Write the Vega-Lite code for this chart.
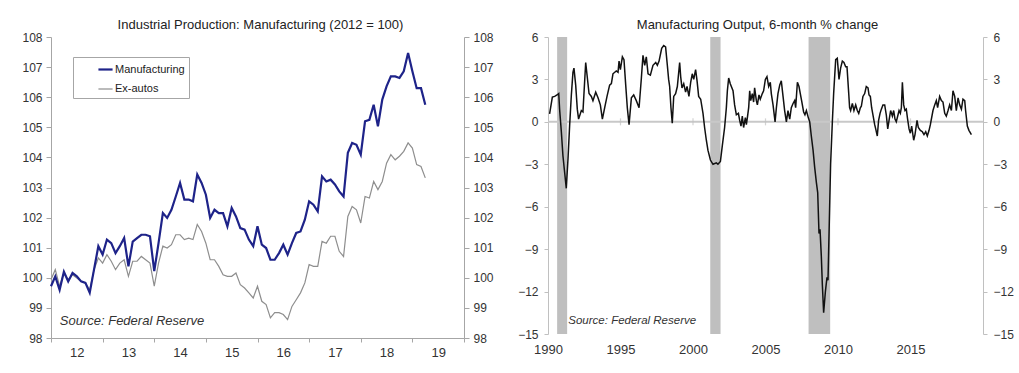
{
  "$schema": "https://vega.github.io/schema/vega-lite/v6.json",
  "background": "white",
  "padding": {"left": 21, "top": 19, "right": 5, "bottom": 5},
  "spacing": 23,
  "config": {
    "font": "Liberation Sans",
    "view": {"stroke": null},
    "axis": {"labelFont": "Liberation Sans", "labelFontSize": 12, "labelColor": "#333333", "domainColor": "#a6a6a6", "tickColor": "#a6a6a6", "grid": false, "tickSize": 5, "labelPadding": 4},
    "title": {"font": "Liberation Sans", "fontSize": 13, "fontWeight": "normal", "color": "#222222", "offset": 5}
  },
  "hconcat": [
    {
      "width": 413,
      "height": 301,
      "title": {"text": "Industrial Production: Manufacturing (2012 = 100)", "dy": 6, "dx": 3},
      "data": {"values": [
        {"t": 2012.0, "Manufacturing": 99.72, "Ex-autos": 99.94},
        {"t": 2012.083, "Manufacturing": 100.05, "Ex-autos": 100.27},
        {"t": 2012.167, "Manufacturing": 99.6, "Ex-autos": 99.72},
        {"t": 2012.25, "Manufacturing": 100.2, "Ex-autos": 100.16},
        {"t": 2012.333, "Manufacturing": 99.88, "Ex-autos": 99.94},
        {"t": 2012.417, "Manufacturing": 100.16, "Ex-autos": 100.1},
        {"t": 2012.5, "Manufacturing": 100.05, "Ex-autos": 99.99},
        {"t": 2012.583, "Manufacturing": 99.88, "Ex-autos": 99.88},
        {"t": 2012.667, "Manufacturing": 99.83, "Ex-autos": 99.83},
        {"t": 2012.75, "Manufacturing": 99.5, "Ex-autos": 99.6},
        {"t": 2012.833, "Manufacturing": 100.27, "Ex-autos": 100.27},
        {"t": 2012.917, "Manufacturing": 101.05, "Ex-autos": 100.66},
        {"t": 2013.0, "Manufacturing": 100.77, "Ex-autos": 100.49},
        {"t": 2013.083, "Manufacturing": 101.27, "Ex-autos": 100.77},
        {"t": 2013.167, "Manufacturing": 101.15, "Ex-autos": 100.55},
        {"t": 2013.25, "Manufacturing": 100.82, "Ex-autos": 100.27},
        {"t": 2013.333, "Manufacturing": 101.05, "Ex-autos": 100.49},
        {"t": 2013.417, "Manufacturing": 101.32, "Ex-autos": 100.6},
        {"t": 2013.5, "Manufacturing": 100.38, "Ex-autos": 100.05},
        {"t": 2013.583, "Manufacturing": 101.2, "Ex-autos": 100.55},
        {"t": 2013.667, "Manufacturing": 101.32, "Ex-autos": 100.55},
        {"t": 2013.75, "Manufacturing": 101.43, "Ex-autos": 100.71},
        {"t": 2013.833, "Manufacturing": 101.43, "Ex-autos": 100.6},
        {"t": 2013.917, "Manufacturing": 101.38, "Ex-autos": 100.49},
        {"t": 2014.0, "Manufacturing": 100.22, "Ex-autos": 99.72},
        {"t": 2014.083, "Manufacturing": 101.15, "Ex-autos": 100.49},
        {"t": 2014.167, "Manufacturing": 102.15, "Ex-autos": 101.05},
        {"t": 2014.25, "Manufacturing": 101.99, "Ex-autos": 100.99},
        {"t": 2014.333, "Manufacturing": 102.26, "Ex-autos": 101.1},
        {"t": 2014.417, "Manufacturing": 102.7, "Ex-autos": 101.43},
        {"t": 2014.5, "Manufacturing": 103.15, "Ex-autos": 101.43},
        {"t": 2014.583, "Manufacturing": 102.6, "Ex-autos": 101.27},
        {"t": 2014.667, "Manufacturing": 102.6, "Ex-autos": 101.32},
        {"t": 2014.75, "Manufacturing": 102.54, "Ex-autos": 101.27},
        {"t": 2014.833, "Manufacturing": 103.43, "Ex-autos": 101.77},
        {"t": 2014.917, "Manufacturing": 103.15, "Ex-autos": 101.54},
        {"t": 2015.0, "Manufacturing": 102.76, "Ex-autos": 101.15},
        {"t": 2015.083, "Manufacturing": 101.99, "Ex-autos": 100.6},
        {"t": 2015.167, "Manufacturing": 102.26, "Ex-autos": 100.6},
        {"t": 2015.25, "Manufacturing": 102.15, "Ex-autos": 100.38},
        {"t": 2015.333, "Manufacturing": 102.15, "Ex-autos": 100.1},
        {"t": 2015.417, "Manufacturing": 101.71, "Ex-autos": 100.05},
        {"t": 2015.5, "Manufacturing": 102.32, "Ex-autos": 100.05},
        {"t": 2015.583, "Manufacturing": 102.04, "Ex-autos": 100.16},
        {"t": 2015.667, "Manufacturing": 101.65, "Ex-autos": 99.77},
        {"t": 2015.75, "Manufacturing": 101.6, "Ex-autos": 99.66},
        {"t": 2015.833, "Manufacturing": 101.27, "Ex-autos": 99.5},
        {"t": 2015.917, "Manufacturing": 101.05, "Ex-autos": 99.33},
        {"t": 2016.0, "Manufacturing": 101.71, "Ex-autos": 99.72},
        {"t": 2016.083, "Manufacturing": 101.1, "Ex-autos": 99.22},
        {"t": 2016.167, "Manufacturing": 100.99, "Ex-autos": 99.11},
        {"t": 2016.25, "Manufacturing": 100.6, "Ex-autos": 98.67},
        {"t": 2016.333, "Manufacturing": 100.6, "Ex-autos": 98.84},
        {"t": 2016.417, "Manufacturing": 100.82, "Ex-autos": 98.84},
        {"t": 2016.5, "Manufacturing": 101.1, "Ex-autos": 98.78},
        {"t": 2016.583, "Manufacturing": 100.77, "Ex-autos": 98.61},
        {"t": 2016.667, "Manufacturing": 101.15, "Ex-autos": 99.05},
        {"t": 2016.75, "Manufacturing": 101.49, "Ex-autos": 99.27},
        {"t": 2016.833, "Manufacturing": 101.54, "Ex-autos": 99.5},
        {"t": 2016.917, "Manufacturing": 101.93, "Ex-autos": 99.83},
        {"t": 2017.0, "Manufacturing": 102.54, "Ex-autos": 100.44},
        {"t": 2017.083, "Manufacturing": 102.43, "Ex-autos": 100.38},
        {"t": 2017.167, "Manufacturing": 102.21, "Ex-autos": 100.38},
        {"t": 2017.25, "Manufacturing": 103.37, "Ex-autos": 101.21},
        {"t": 2017.333, "Manufacturing": 103.2, "Ex-autos": 101.15},
        {"t": 2017.417, "Manufacturing": 103.26, "Ex-autos": 101.38},
        {"t": 2017.5, "Manufacturing": 103.1, "Ex-autos": 101.38},
        {"t": 2017.583, "Manufacturing": 102.87, "Ex-autos": 100.88},
        {"t": 2017.667, "Manufacturing": 102.7, "Ex-autos": 100.71},
        {"t": 2017.75, "Manufacturing": 104.15, "Ex-autos": 102.04},
        {"t": 2017.833, "Manufacturing": 104.48, "Ex-autos": 102.37},
        {"t": 2017.917, "Manufacturing": 104.42, "Ex-autos": 102.26},
        {"t": 2018.0, "Manufacturing": 104.09, "Ex-autos": 101.82},
        {"t": 2018.083, "Manufacturing": 105.2, "Ex-autos": 102.7},
        {"t": 2018.167, "Manufacturing": 105.25, "Ex-autos": 102.65},
        {"t": 2018.25, "Manufacturing": 105.75, "Ex-autos": 103.2},
        {"t": 2018.333, "Manufacturing": 105.03, "Ex-autos": 102.93},
        {"t": 2018.417, "Manufacturing": 105.92, "Ex-autos": 103.2},
        {"t": 2018.5, "Manufacturing": 106.36, "Ex-autos": 103.81},
        {"t": 2018.583, "Manufacturing": 106.69, "Ex-autos": 104.09},
        {"t": 2018.667, "Manufacturing": 106.69, "Ex-autos": 103.92},
        {"t": 2018.75, "Manufacturing": 106.64, "Ex-autos": 104.04},
        {"t": 2018.833, "Manufacturing": 106.86, "Ex-autos": 104.2},
        {"t": 2018.917, "Manufacturing": 107.47, "Ex-autos": 104.48},
        {"t": 2019.0, "Manufacturing": 106.86, "Ex-autos": 104.31},
        {"t": 2019.083, "Manufacturing": 106.3, "Ex-autos": 103.76},
        {"t": 2019.167, "Manufacturing": 106.3, "Ex-autos": 103.7},
        {"t": 2019.25, "Manufacturing": 105.75, "Ex-autos": 103.32}
      ]},
      "transform": [{"fold": ["Ex-autos", "Manufacturing"], "as": ["series", "value"]}],
      "layer": [
        {
          "mark": {"type": "line"},
          "encoding": {
            "x": {"field": "t", "type": "quantitative", "title": null,
              "scale": {"domain": [2012, 2020], "nice": false, "zero": false},
              "axis": {"values": [2012, 2013, 2014, 2015, 2016, 2017, 2018, 2019, 2020], "labelExpr": "datum.value < 2020 ? substring(toString(datum.value), 2, 4) : ''", "labelOffset": 25.8, "labelFlush": false, "labelFontSize": 13, "tickSize": 4, "labelPadding": 4}},
            "y": {"field": "value", "type": "quantitative", "title": null,
              "scale": {"domain": [98, 108], "nice": false, "zero": false},
              "axis": {"orient": "left", "values": [98, 99, 100, 101, 102, 103, 104, 105, 106, 107, 108]}},
            "color": {"field": "series", "type": "nominal",
              "scale": {"domain": ["Manufacturing", "Ex-autos"], "range": ["#1e2389", "#8e8e8e"]},
              "legend": {"title": null, "orient": "none", "legendX": 22, "legendY": 20, "direction": "vertical", "strokeColor": "#a6a6a6", "fillColor": "white", "padding": 4, "symbolType": "stroke", "symbolSize": 200, "symbolStrokeWidth": 2, "symbolOffset": 20, "labelFontSize": 11, "labelColor": "#222222", "rowPadding": 6, "labelOffset": 1}},
            "strokeWidth": {"field": "series", "type": "nominal",
              "scale": {"domain": ["Manufacturing", "Ex-autos"], "range": [2.2, 1.2]}, "legend": null}
          }
        },
        {
          "mark": {"type": "line", "opacity": 0},
          "encoding": {
            "x": {"field": "t", "type": "quantitative", "title": null},
            "y": {"field": "value", "type": "quantitative", "title": null,
              "axis": {"orient": "right", "values": [98, 99, 100, 101, 102, 103, 104, 105, 106, 107, 108]}},
            "detail": {"field": "series"}
          }
        },
        {
          "data": {"values": [{"label": "Source: Federal Reserve"}]},
          "mark": {"type": "text", "align": "left", "baseline": "middle", "fontStyle": "italic", "fontSize": 13, "color": "#333333"},
          "encoding": {
            "x": {"datum": 2012.17, "type": "quantitative", "title": null},
            "y": {"datum": 98.56, "type": "quantitative", "axis": null},
            "text": {"field": "label"}
          }
        }
      ],
      "resolve": {"axis": {"y": "independent"}}
    },
    {
      "width": 435,
      "height": 297,
      "title": {"text": "Manufacturing Output, 6-month % change", "dy": 6, "dx": -8},
      "layer": [
        {
          "data": {"values": [{"start": 1990.63, "end": 1991.32}, {"start": 2001.19, "end": 2001.9}, {"start": 2007.97, "end": 2009.46}]},
          "mark": {"type": "rect", "color": "#bfbfbf"},
          "encoding": {
            "x": {"field": "start", "type": "quantitative", "title": null, "scale": {"domain": [1990, 2020], "nice": false, "zero": false}},
            "x2": {"field": "end"}
          }
        },
        {
          "data": {"values": [{"z": 0}]},
          "mark": {"type": "rule", "color": "#c8c8c8", "strokeWidth": 2},
          "encoding": {
            "y": {"field": "z", "type": "quantitative", "axis": null}
          }
        },
        {
          "data": {"values": [{"yr": 1995}, {"yr": 2000}, {"yr": 2005}, {"yr": 2010}, {"yr": 2015}]},
          "mark": {"type": "tick", "orient": "vertical", "size": 7, "thickness": 1.2, "color": "#c0c0c0"},
          "encoding": {
            "x": {"field": "yr", "type": "quantitative", "title": null},
            "y": {"datum": 0, "type": "quantitative", "axis": null}
          }
        },
        {
          "data": {"name": "chg"},
          "mark": {"type": "line", "color": "#111111", "strokeWidth": 1.5},
          "encoding": {
            "x": {"field": "t", "type": "quantitative", "title": null,
              "axis": {"values": [1990, 1995, 2000, 2005, 2010, 2015], "format": "d", "domain": false, "ticks": false, "labelFlush": false, "labelFontSize": 13, "labelPadding": 9}},
            "y": {"field": "v", "type": "quantitative", "title": null,
              "scale": {"domain": [-15, 6], "nice": false, "zero": false},
              "axis": {"orient": "left", "values": [-15, -12, -9, -6, -3, 0, 3, 6], "domainColor": "#c0c0c0", "tickColor": "#c0c0c0", "tickSize": 4, "labelPadding": 6}}
          }
        },
        {
          "data": {"name": "chg"},
          "mark": {"type": "line", "opacity": 0},
          "encoding": {
            "x": {"field": "t", "type": "quantitative", "title": null},
            "y": {"field": "v", "type": "quantitative", "title": null,
              "axis": {"orient": "right", "values": [-15, -12, -9, -6, -3, 0, 3, 6], "domainColor": "#c0c0c0", "tickColor": "#c0c0c0", "tickSize": 4, "labelPadding": 6}}
          }
        },
        {
          "data": {"values": [{"label": "Source: Federal Reserve"}]},
          "mark": {"type": "text", "align": "left", "baseline": "middle", "fontStyle": "italic", "fontSize": 11.5, "color": "#333333"},
          "encoding": {
            "x": {"datum": 1991.4, "type": "quantitative", "title": null},
            "y": {"datum": -14.05, "type": "quantitative", "axis": null},
            "text": {"field": "label"}
          }
        }
      ],
      "resolve": {"axis": {"y": "independent"}}
    }
  ],
  "datasets": {
    "chg": [
      {"t": 1990.11, "v": 0.57}, {"t": 1990.30, "v": 1.75}, {"t": 1990.46, "v": 1.8}, {"t": 1990.62, "v": 1.9},
      {"t": 1990.74, "v": 2.0}, {"t": 1990.80, "v": 0.9}, {"t": 1990.92, "v": -0.7}, {"t": 1991.03, "v": -2.4},
      {"t": 1991.15, "v": -3.6}, {"t": 1991.26, "v": -4.7}, {"t": 1991.38, "v": -2.6}, {"t": 1991.49, "v": -0.3},
      {"t": 1991.61, "v": 1.9}, {"t": 1991.72, "v": 3.5}, {"t": 1991.79, "v": 3.8}, {"t": 1991.91, "v": 2.6},
      {"t": 1992.02, "v": 0.9}, {"t": 1992.11, "v": 0.2}, {"t": 1992.30, "v": 0.8}, {"t": 1992.41, "v": 0.7},
      {"t": 1992.60, "v": 4.2}, {"t": 1992.83, "v": 2.0}, {"t": 1992.99, "v": 1.8}, {"t": 1993.10, "v": 1.5},
      {"t": 1993.29, "v": 2.1}, {"t": 1993.45, "v": 1.7}, {"t": 1993.61, "v": 1.2}, {"t": 1993.75, "v": 0.2},
      {"t": 1993.91, "v": 1.0}, {"t": 1994.07, "v": 1.8}, {"t": 1994.25, "v": 2.6}, {"t": 1994.37, "v": 2.7},
      {"t": 1994.48, "v": 3.4}, {"t": 1994.71, "v": 3.6}, {"t": 1994.83, "v": 3.5}, {"t": 1994.90, "v": 4.3},
      {"t": 1994.99, "v": 3.7}, {"t": 1995.13, "v": 4.6}, {"t": 1995.24, "v": 4.4}, {"t": 1995.36, "v": 2.6},
      {"t": 1995.47, "v": 1.0}, {"t": 1995.59, "v": -0.2}, {"t": 1995.75, "v": 1.7}, {"t": 1995.91, "v": 1.9},
      {"t": 1996.09, "v": 1.5}, {"t": 1996.28, "v": 1.0}, {"t": 1996.44, "v": 3.1}, {"t": 1996.55, "v": 4.7},
      {"t": 1996.67, "v": 4.0}, {"t": 1996.78, "v": 4.6}, {"t": 1996.90, "v": 3.4}, {"t": 1997.06, "v": 3.3},
      {"t": 1997.24, "v": 4.0}, {"t": 1997.43, "v": 4.2}, {"t": 1997.54, "v": 4.0}, {"t": 1997.66, "v": 4.3},
      {"t": 1997.84, "v": 5.2}, {"t": 1997.98, "v": 5.4}, {"t": 1998.11, "v": 5.3}, {"t": 1998.23, "v": 4.0},
      {"t": 1998.32, "v": 3.0}, {"t": 1998.39, "v": 2.5}, {"t": 1998.48, "v": 1.0}, {"t": 1998.57, "v": -0.1},
      {"t": 1998.67, "v": 1.8}, {"t": 1998.80, "v": 2.0}, {"t": 1998.92, "v": 2.5}, {"t": 1999.08, "v": 4.2},
      {"t": 1999.15, "v": 3.2}, {"t": 1999.24, "v": 2.4}, {"t": 1999.36, "v": 2.7}, {"t": 1999.49, "v": 2.1},
      {"t": 1999.59, "v": 2.5}, {"t": 1999.72, "v": 1.8}, {"t": 1999.84, "v": 2.8}, {"t": 1999.95, "v": 3.4},
      {"t": 2000.05, "v": 3.0}, {"t": 2000.18, "v": 3.7}, {"t": 2000.28, "v": 2.9}, {"t": 2000.39, "v": 1.8},
      {"t": 2000.53, "v": 1.6}, {"t": 2000.69, "v": 0.6}, {"t": 2000.80, "v": -0.4}, {"t": 2000.92, "v": -1.3},
      {"t": 2001.03, "v": -2.0}, {"t": 2001.20, "v": -2.7}, {"t": 2001.38, "v": -3.0}, {"t": 2001.61, "v": -2.9},
      {"t": 2001.72, "v": -3.0}, {"t": 2001.89, "v": -2.8}, {"t": 2002.02, "v": -1.7}, {"t": 2002.18, "v": -0.4},
      {"t": 2002.30, "v": 1.0}, {"t": 2002.37, "v": 2.2}, {"t": 2002.46, "v": 3.1}, {"t": 2002.57, "v": 2.7},
      {"t": 2002.76, "v": 2.2}, {"t": 2002.87, "v": 1.2}, {"t": 2002.99, "v": 0.5}, {"t": 2003.13, "v": 0.6},
      {"t": 2003.22, "v": 0.1}, {"t": 2003.31, "v": -0.3}, {"t": 2003.40, "v": 0.4}, {"t": 2003.49, "v": -0.4},
      {"t": 2003.61, "v": 0.3}, {"t": 2003.68, "v": -0.2}, {"t": 2003.75, "v": 0.3}, {"t": 2003.84, "v": 1.0},
      {"t": 2003.91, "v": 2.2}, {"t": 2003.98, "v": 1.5}, {"t": 2004.09, "v": 2.0}, {"t": 2004.18, "v": 1.4},
      {"t": 2004.25, "v": 2.4}, {"t": 2004.37, "v": 1.5}, {"t": 2004.44, "v": 1.2}, {"t": 2004.55, "v": 1.9},
      {"t": 2004.64, "v": 1.6}, {"t": 2004.78, "v": 2.0}, {"t": 2004.87, "v": 2.2}, {"t": 2004.99, "v": 3.0},
      {"t": 2005.10, "v": 3.2}, {"t": 2005.22, "v": 2.5}, {"t": 2005.33, "v": 2.8}, {"t": 2005.40, "v": 2.0},
      {"t": 2005.52, "v": 1.2}, {"t": 2005.66, "v": 0.0}, {"t": 2005.75, "v": 1.0}, {"t": 2005.86, "v": 2.0},
      {"t": 2005.98, "v": 2.6}, {"t": 2006.09, "v": 2.9}, {"t": 2006.21, "v": 1.8}, {"t": 2006.32, "v": 0.8},
      {"t": 2006.44, "v": 0.0}, {"t": 2006.55, "v": 0.8}, {"t": 2006.67, "v": 0.2}, {"t": 2006.78, "v": 1.0},
      {"t": 2006.90, "v": 1.3}, {"t": 2007.01, "v": 1.5}, {"t": 2007.08, "v": 1.0}, {"t": 2007.20, "v": 2.8},
      {"t": 2007.31, "v": 2.5}, {"t": 2007.40, "v": 2.0}, {"t": 2007.49, "v": 1.5}, {"t": 2007.63, "v": 0.7},
      {"t": 2007.72, "v": 0.5}, {"t": 2007.82, "v": 0.8}, {"t": 2007.95, "v": 0.3}, {"t": 2008.05, "v": 0.0},
      {"t": 2008.16, "v": -1.0}, {"t": 2008.28, "v": -2.0}, {"t": 2008.39, "v": -3.2}, {"t": 2008.51, "v": -4.3},
      {"t": 2008.60, "v": -5.0}, {"t": 2008.69, "v": -7.9}, {"t": 2008.76, "v": -7.6}, {"t": 2008.85, "v": -9.5},
      {"t": 2008.92, "v": -11.5}, {"t": 2009.01, "v": -13.5}, {"t": 2009.13, "v": -12.0}, {"t": 2009.24, "v": -11.0},
      {"t": 2009.31, "v": -11.2}, {"t": 2009.38, "v": -8.0}, {"t": 2009.49, "v": -3.0}, {"t": 2009.61, "v": 0.0},
      {"t": 2009.70, "v": 2.0}, {"t": 2009.84, "v": 4.4}, {"t": 2009.95, "v": 4.5}, {"t": 2010.07, "v": 3.0},
      {"t": 2010.18, "v": 3.8}, {"t": 2010.30, "v": 4.3}, {"t": 2010.41, "v": 4.2}, {"t": 2010.53, "v": 3.9},
      {"t": 2010.62, "v": 3.9}, {"t": 2010.74, "v": 2.0}, {"t": 2010.80, "v": 1.0}, {"t": 2010.87, "v": 0.8},
      {"t": 2010.99, "v": 1.3}, {"t": 2011.10, "v": 0.8}, {"t": 2011.22, "v": 1.2}, {"t": 2011.33, "v": 0.8},
      {"t": 2011.43, "v": 0.6}, {"t": 2011.54, "v": 1.0}, {"t": 2011.61, "v": 1.1}, {"t": 2011.72, "v": 1.8},
      {"t": 2011.84, "v": 2.0}, {"t": 2011.95, "v": 2.5}, {"t": 2012.07, "v": 2.4}, {"t": 2012.14, "v": 1.9},
      {"t": 2012.23, "v": 1.8}, {"t": 2012.32, "v": 1.0}, {"t": 2012.41, "v": 0.5}, {"t": 2012.53, "v": -0.2},
      {"t": 2012.60, "v": -0.5}, {"t": 2012.71, "v": -1.0}, {"t": 2012.80, "v": 0.1}, {"t": 2012.90, "v": 0.6},
      {"t": 2012.99, "v": 0.9}, {"t": 2013.10, "v": 1.2}, {"t": 2013.22, "v": 1.2}, {"t": 2013.33, "v": 0.5},
      {"t": 2013.43, "v": -0.5}, {"t": 2013.52, "v": 0.1}, {"t": 2013.63, "v": 0.8}, {"t": 2013.75, "v": 0.4},
      {"t": 2013.84, "v": 0.8}, {"t": 2013.93, "v": 0.2}, {"t": 2014.02, "v": 0.0}, {"t": 2014.14, "v": 0.5},
      {"t": 2014.21, "v": 0.8}, {"t": 2014.30, "v": 0.6}, {"t": 2014.37, "v": 1.0}, {"t": 2014.44, "v": 2.8},
      {"t": 2014.53, "v": 1.2}, {"t": 2014.62, "v": 0.8}, {"t": 2014.71, "v": 0.9}, {"t": 2014.80, "v": 0.2},
      {"t": 2014.90, "v": -0.5}, {"t": 2014.99, "v": -0.8}, {"t": 2015.08, "v": -0.3}, {"t": 2015.22, "v": -1.3},
      {"t": 2015.31, "v": -0.9}, {"t": 2015.45, "v": 0.1}, {"t": 2015.54, "v": -0.4}, {"t": 2015.68, "v": -0.6},
      {"t": 2015.82, "v": -0.7}, {"t": 2015.93, "v": -0.9}, {"t": 2016.05, "v": -0.7}, {"t": 2016.16, "v": -1.0},
      {"t": 2016.28, "v": -0.6}, {"t": 2016.37, "v": -0.2}, {"t": 2016.55, "v": 0.8}, {"t": 2016.67, "v": 1.2},
      {"t": 2016.78, "v": 1.5}, {"t": 2016.87, "v": 1.0}, {"t": 2017.01, "v": 1.8}, {"t": 2017.13, "v": 1.5},
      {"t": 2017.24, "v": 1.4}, {"t": 2017.36, "v": 0.6}, {"t": 2017.47, "v": 0.4}, {"t": 2017.59, "v": 0.8},
      {"t": 2017.70, "v": 1.2}, {"t": 2017.82, "v": 0.8}, {"t": 2017.93, "v": 2.2}, {"t": 2018.05, "v": 1.8},
      {"t": 2018.16, "v": 0.8}, {"t": 2018.28, "v": 1.7}, {"t": 2018.39, "v": 1.2}, {"t": 2018.51, "v": 0.9},
      {"t": 2018.62, "v": 1.6}, {"t": 2018.74, "v": 1.5}, {"t": 2018.80, "v": 0.8}, {"t": 2018.92, "v": -0.3},
      {"t": 2019.03, "v": -0.6}, {"t": 2019.20, "v": -0.9}
    ]
  }
}
